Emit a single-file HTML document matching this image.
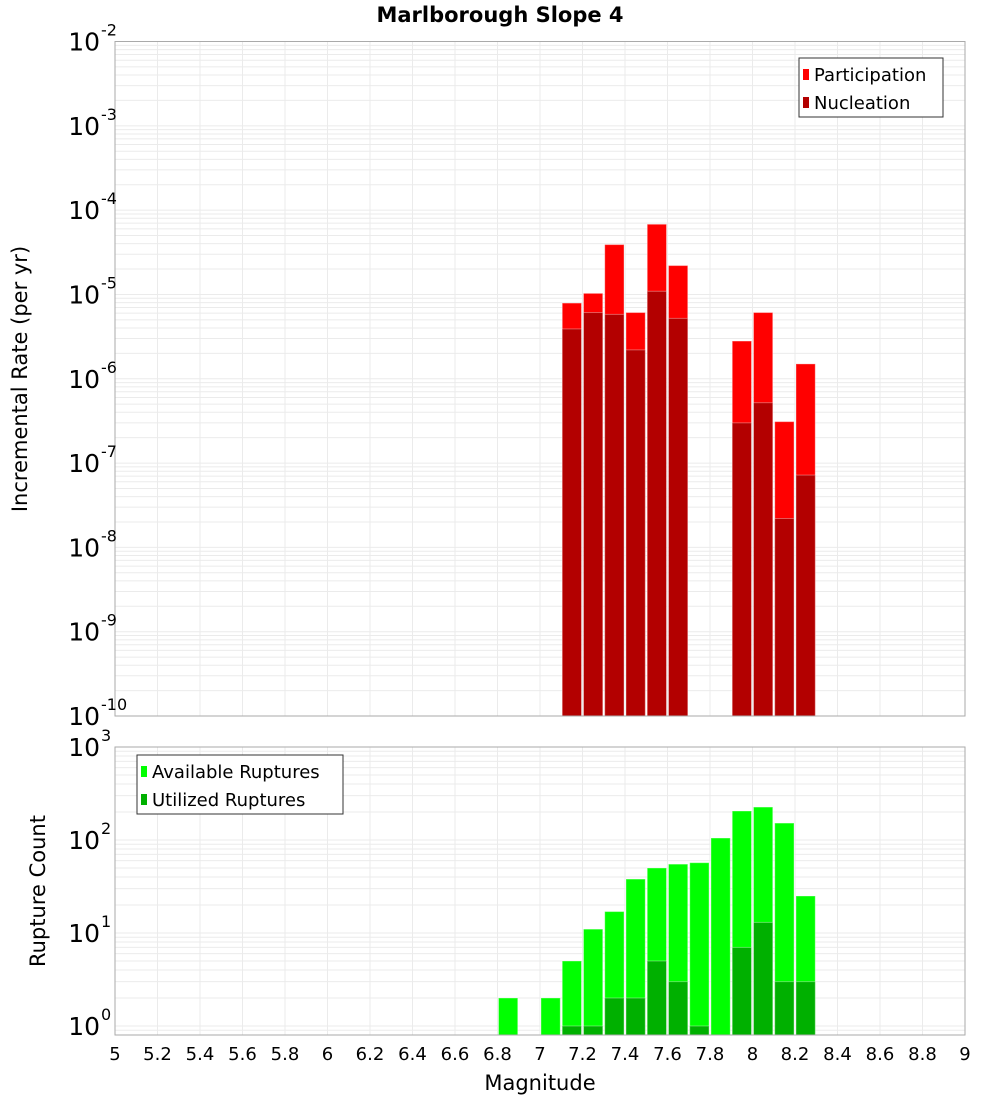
<!DOCTYPE html>
<html><head><meta charset="utf-8"><style>body{margin:0;background:#fff}svg{display:block;font-family:"DejaVu Sans","Liberation Sans",sans-serif}</style></head>
<body>
<svg id="c" width="1000" height="1100"></svg>
<script>
const bins=[6.85,7.05,7.15,7.25,7.35,7.45,7.55,7.65,7.75,7.85,7.95,8.05,8.15,8.25];
const partMags=[7.15,7.25,7.35,7.45,7.55,7.65,7.95,8.05,8.15,8.25];
const participation=[7.9e-6,1.03e-5,3.9e-5,6.1e-6,6.8e-5,2.2e-5,2.8e-6,6.1e-6,3.1e-7,1.5e-6];
const nucleation=[3.9e-6,6.1e-6,5.8e-6,2.2e-6,1.09e-5,5.2e-6,3.0e-7,5.2e-7,2.2e-8,7.2e-8];
const available=[2,2,5,11,17,38,50,55,57,105,205,226,152,25];
const utilized=[0,0,1,1,2,2,5,3,1,0,7,13,3,3];
const xTicks=[5,5.2,5.4,5.6,5.8,6,6.2,6.4,6.6,6.8,7,7.2,7.4,7.6,7.8,8,8.2,8.4,8.6,8.8,9];
const topExps=[-2,-3,-4,-5,-6,-7,-8,-9,-10];
const botExps=[0,1,2,3];

const svg=document.getElementById('c');const NS='http://www.w3.org/2000/svg';
function mk(t,a,p,txt){const e=document.createElementNS(NS,t);for(const k in a)e.setAttribute(k,a[k]);if(txt!==undefined)e.textContent=txt;(p||svg).appendChild(e);return e;}
const L=115,R=965;
const x=v=>L+(v-5)*(R-L)/4;
const T1=41.5,B1=716;const yT=v=>T1+(-2-Math.log10(v))*(B1-T1)/8;
const T2=747,B2=1035;const pxd=93;const yB=v=>B2-9-Math.log10(v)*pxd;

mk('text',{x:500,y:22,'text-anchor':'middle','font-size':21,'font-weight':'bold',},null,'Marlborough Slope 4');

function panel(top,bot,yfn,lo,hi,name){
  const g=mk('g',{});
  for(let e=lo;e<hi;e++)for(let m=1;m<10;m++){const yy=yfn(m*Math.pow(10,e));if(yy>=top&&yy<=bot)mk('line',{x1:L,x2:R,y1:yy,y2:yy,stroke:'#ebebeb','stroke-width':1},g);}
  xTicks.forEach(t=>mk('line',{x1:x(t),x2:x(t),y1:top,y2:bot,stroke:'#ebebeb'},g));
}
panel(T1,B1,yT,-10,-1,'top');
panel(T2,B2,yB,-1,4,'bottom');

const bw=(R-L)/40;
function bar(m,v,yfn,bot,fill,nm){const yy=yfn(v);const r=mk('rect',{x:x(m)-bw/2+1,y:yy,width:bw-2,height:bot-yy,fill:fill,stroke:'rgba(255,255,255,0.35)','stroke-width':1});
}
partMags.forEach((m,i)=>bar(m,participation[i],yT,B1,'#ff0000','participation-bar'));
partMags.forEach((m,i)=>bar(m,nucleation[i],yT,B1,'#b30000','nucleation-bar'));
bins.forEach((m,i)=>{if(available[i]>0)bar(m,available[i],yB,B2,'#00ff00','available-bar');});
bins.forEach((m,i)=>{if(utilized[i]>0)bar(m,utilized[i],yB,B2,'#00b000','utilized-bar');});

mk('rect',{x:L,y:T1,width:R-L,height:B1-T1,fill:'none',stroke:'#aaa',});
mk('rect',{x:L,y:T2,width:R-L,height:B2-T2,fill:'none',stroke:'#aaa',});

function ylab(e,yy,nm){const t=mk('text',{x:100,y:yy+9,'text-anchor':'end','font-size':25,},null,'10');
 mk('text',{x:101,y:yy-6,'font-size':16,},null,String(e));}
topExps.forEach(e=>ylab(e,yT(Math.pow(10,e)),'top-y-tick'));
botExps.forEach(e=>ylab(e,yB(Math.pow(10,e)),'bottom-y-tick'));
xTicks.forEach(t=>mk('text',{x:x(t),y:1060,'text-anchor':'middle','font-size':18,},null,String(t)));

mk('text',{x:540,y:1090,'text-anchor':'middle','font-size':21,},null,'Magnitude');
mk('text',{x:0,y:0,transform:'translate(27,379) rotate(-90)','text-anchor':'middle','font-size':21,},null,'Incremental Rate (per yr)');
mk('text',{x:0,y:0,transform:'translate(45,891) rotate(-90)','text-anchor':'middle','font-size':21,},null,'Rupture Count');

function legend(lx,ly,w,items,nm){const g=mk('g',{});
 mk('rect',{x:lx,y:ly,width:w,height:59,fill:'#fff',stroke:'#333'},g);
 items.forEach((it,i)=>{mk('rect',{x:lx+4,y:ly+11+i*28,width:6,height:11,fill:it[1]},g);
 mk('text',{x:lx+15,y:ly+23+i*28,'font-size':18,},g,it[0]);});}
legend(799,58,144,[['Participation','#ff0000'],['Nucleation','#b30000']],'top-legend');
legend(137,755,206,[['Available Ruptures','#00ff00'],['Utilized Ruptures','#00b000']],'bottom-legend');
</script>
</body></html>
